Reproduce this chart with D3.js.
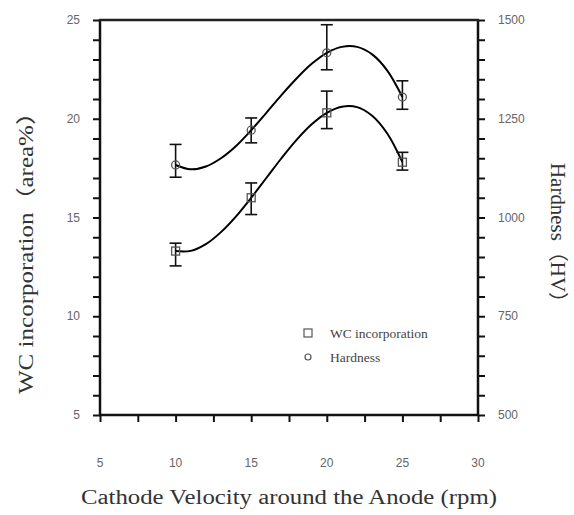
<!DOCTYPE html>
<html><head><meta charset="utf-8">
<script src="https://cdn.jsdelivr.net/npm/d3@7/dist/d3.min.js"></script>
<style>
body{margin:0;background:#fff;}
svg{display:block;}
</style></head>
<body><svg id="chart" width="574" height="515"></svg>
<script>
// ---- data ----
const velocity = [10, 15, 20, 25];
const wcValues = [13.3, 16.0, 20.3, 17.8];
const wcErrLow = [12.55, 15.15, 19.5, 17.4];
const wcErrHigh = [13.7, 16.75, 21.4, 18.3];
const hvValues = [1133, 1221, 1417, 1305];
const hvErrLow = [1102, 1189, 1374, 1274];
const hvErrHigh = [1185, 1252, 1488, 1346];
// fitted curves
const fitX = [10, 11, 12, 13, 14, 15, 16, 17, 18, 19, 20, 21, 22, 23, 24, 25];
const wcFit = [13.3, 13.31, 13.65, 14.26, 15.06, 16.0, 17.0, 18.0, 18.93, 19.72, 20.3, 20.61, 20.59, 20.15, 19.25, 17.8];
const hvFit = [1133, 1122, 1129, 1150, 1181, 1221, 1265, 1310, 1352, 1389, 1417, 1432, 1432, 1413, 1372, 1305];
const xTicks = [5, 10, 15, 20, 25, 30];
const yLeftTicks = [5, 10, 15, 20, 25];
const yRightTicks = [500, 750, 1000, 1250, 1500];
const xTitle = "Cathode Velocity around the Anode (rpm)";
const yLeftTitle = "WC incorporation（area%）";
const yRightTitle = "Hardness（HV）";
const legendLabels = ["WC incorporation", "Hardness"];

const svg = d3.select("#chart");
const L = 100, R = 478, T = 20, B = 415;
const x = d3.scaleLinear().domain([5, 30]).range([L, R]);
const yL = d3.scaleLinear().domain([5, 25]).range([B, T]);
const yR = d3.scaleLinear().domain([500, 1500]).range([B, T]);

const axisColor = "#111";
const tickFont = "'Liberation Sans', Arial, sans-serif";
const serif = "'Liberation Serif', 'Times New Roman', 'Noto Sans CJK SC', serif";

function styleAxis(g) {
  g.select(".domain").remove();
  g.selectAll(".tick line").attr("stroke", axisColor).attr("stroke-width", 2);
}
svg.append("g").attr("transform", `translate(${L},0)`)
  .call(d3.axisLeft(yL).tickValues(d3.range(5, 25.01, 1)).tickSize(7).tickFormat(""))
  .call(styleAxis);
svg.append("g").attr("transform", `translate(${R},0)`)
  .call(d3.axisRight(yR).tickValues(d3.range(500, 1500.1, 50)).tickSize(7).tickFormat(""))
  .call(styleAxis);
svg.append("g").attr("transform", `translate(0,${B})`)
  .call(d3.axisBottom(x).tickValues(d3.range(5, 30.01, 2.5)).tickSize(7).tickFormat(""))
  .call(styleAxis);

// frame lines
svg.append("line").attr("x1", L).attr("x2", L).attr("y1", T - 1).attr("y2", B + 1).attr("stroke", axisColor).attr("stroke-width", 2.5);
svg.append("line").attr("x1", R).attr("x2", R).attr("y1", T - 1).attr("y2", B + 1).attr("stroke", axisColor).attr("stroke-width", 2.5);
svg.append("line").attr("x1", L - 1).attr("x2", R + 1).attr("y1", T).attr("y2", T).attr("stroke", "#222").attr("stroke-width", 2.5);
svg.append("line").attr("x1", L - 1).attr("x2", R + 1).attr("y1", B).attr("y2", B).attr("stroke", axisColor).attr("stroke-width", 2.5);

// tick labels
const tickColor = "#666";
svg.append("g").selectAll("text").data(yLeftTicks).join("text")
  .attr("x", L - 20).attr("y", d => yL(d)).attr("dy", "0.35em")
  .attr("text-anchor", "end").attr("font-family", tickFont).attr("font-size", 12)
  .attr("fill", tickColor).text(d => d);
svg.append("g").selectAll("text").data(yRightTicks).join("text")
  .attr("x", R + 20).attr("y", d => yR(d)).attr("dy", "0.35em")
  .attr("text-anchor", "start").attr("font-family", tickFont).attr("font-size", 12)
  .attr("fill", tickColor).text(d => d);
svg.append("g").selectAll("text").data(xTicks).join("text")
  .attr("x", d => x(d)).attr("y", 463).attr("dy", "0.35em")
  .attr("text-anchor", "middle").attr("font-family", tickFont).attr("font-size", 12)
  .attr("fill", tickColor).text(d => d);

// axis titles
svg.append("text").attr("x", 289).attr("y", 504)
  .attr("text-anchor", "middle").attr("font-family", serif).attr("font-size", 20)
  .attr("fill", "#333").attr("textLength", 416).attr("lengthAdjust", "spacingAndGlyphs").text(xTitle);
svg.append("text").attr("transform", "translate(33,247) rotate(-90)")
  .attr("text-anchor", "middle").attr("font-family", serif).attr("font-size", 20)
  .attr("fill", "#333").attr("textLength", 294).attr("lengthAdjust", "spacingAndGlyphs").text(yLeftTitle);
svg.append("text").attr("transform", "translate(551,238) rotate(90)")
  .attr("text-anchor", "middle").attr("font-family", serif).attr("font-size", 20)
  .attr("fill", "#333").attr("textLength", 150).attr("lengthAdjust", "spacingAndGlyphs").text(yRightTitle);

// fitted curves
const lineWC = d3.line().x((d, i) => x(fitX[i])).y(d => yL(d)).curve(d3.curveCatmullRom);
const lineHV = d3.line().x((d, i) => x(fitX[i])).y(d => yR(d)).curve(d3.curveCatmullRom);
svg.append("path").attr("d", lineWC(wcFit)).attr("fill", "none").attr("stroke", "#000").attr("stroke-width", 2);
svg.append("path").attr("d", lineHV(hvFit)).attr("fill", "none").attr("stroke", "#000").attr("stroke-width", 2);

// error bars
function errorBars(lo, hi, yScale) {
  const g = svg.append("g").attr("stroke", "#111").attr("stroke-width", 1.6);
  velocity.forEach((v, i) => {
    g.append("line").attr("x1", x(v)).attr("x2", x(v)).attr("y1", yScale(lo[i])).attr("y2", yScale(hi[i]));
    g.append("line").attr("x1", x(v) - 6).attr("x2", x(v) + 6).attr("y1", yScale(lo[i])).attr("y2", yScale(lo[i]));
    g.append("line").attr("x1", x(v) - 6).attr("x2", x(v) + 6).attr("y1", yScale(hi[i])).attr("y2", yScale(hi[i]));
  });
}
errorBars(wcErrLow, wcErrHigh, yL);
errorBars(hvErrLow, hvErrHigh, yR);

// markers
svg.append("g").selectAll("rect").data(wcValues).join("rect")
  .attr("x", (d, i) => x(velocity[i]) - 4).attr("y", d => yL(d) - 4)
  .attr("width", 8).attr("height", 8).attr("fill", "none").attr("stroke", "#555").attr("stroke-width", 1.3);
svg.append("g").selectAll("circle").data(hvValues).join("circle")
  .attr("cx", (d, i) => x(velocity[i])).attr("cy", d => yR(d)).attr("r", 4)
  .attr("fill", "none").attr("stroke", "#555").attr("stroke-width", 1.3);

// legend
const lg = svg.append("g");
lg.append("rect").attr("x", 304).attr("y", 329).attr("width", 8).attr("height", 8)
  .attr("fill", "none").attr("stroke", "#555").attr("stroke-width", 1.2);
lg.append("circle").attr("cx", 308).attr("cy", 357).attr("r", 3)
  .attr("fill", "none").attr("stroke", "#555").attr("stroke-width", 1.2);
lg.selectAll("text").data(legendLabels).join("text")
  .attr("x", 330).attr("y", (d, i) => 333 + i * 24).attr("dy", "0.35em")
  .attr("font-family", serif).attr("font-size", 13.5).attr("fill", "#444").text(d => d);
</script>
</body></html>
